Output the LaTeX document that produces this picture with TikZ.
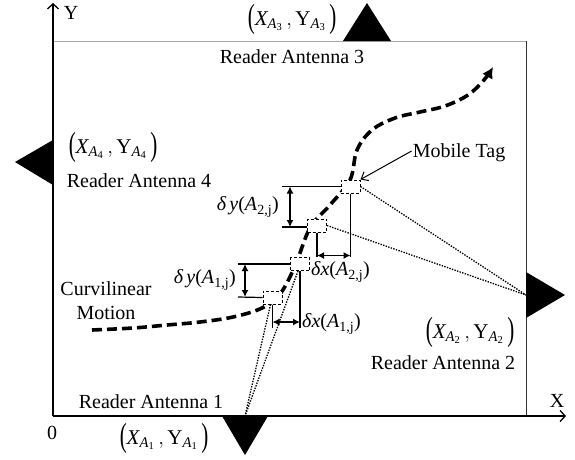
\documentclass[tikz,border=0pt]{standalone}
\usepackage{amsmath}
\usepackage{graphicx}
\usepackage{fontspec}
\setmainfont{Liberation Serif}
\usetikzlibrary{arrows.meta}
\newcommand{\bpar}[1]{\raisebox{-0.08em}{\scalebox{1}[1.6]{#1}}}
\newcommand{\antco}[1]{\bpar{(}$\textit{X}_{\textit{A}_{\text{#1}}}\,,\textrm{Y}_{\textit{A}_{\text{#1}}}$\,\bpar{)}}
\newcommand{\dyl}[1]{\textit{δ\,y}(\textit{A}\textsubscript{#1})}
\newcommand{\dxl}[1]{\textit{δx}(\textit{A}\textsubscript{#1})}
\begin{document}
\begin{tikzpicture}[x=1pt,y=-1pt,
  lbl/.style={font=\fontsize{20}{24}\selectfont, inner sep=0pt},
  colbl/.style={font=\fontsize{21}{25}\selectfont, inner sep=0pt},
  tagbox/.style={draw, dash pattern=on 3pt off 2pt, fill=white, line width=1pt, minimum width=19pt, minimum height=13pt, inner sep=0pt},
  axisline/.style={line width=1.6pt, -{Straight Barb[length=5pt,width=11pt,line width=1.3pt]}},
  dimline/.style={line width=1.2pt},
  dimarrow/.style={line width=1.3pt, {Latex[length=7pt,width=7pt]}-{Latex[length=7pt,width=7pt]}},
  ray/.style={line width=1.3pt, dash pattern=on 1.4pt off 1.3pt},
  motion/.style={line width=3.6pt, dash pattern=on 10pt off 5pt, -{Latex[length=11pt,width=12pt]}},
  antenna/.style={fill=black}
]
\useasboundingbox (0,0) rectangle (575,459);
% frame
\draw[gray!70, line width=1pt] (53,41) -- (526,41);
\draw[black!80, line width=1pt] (526,41) -- (526,416);
% axes
\coordinate (o) at (53,416);
\coordinate (ytip) at (53,3);
\coordinate (xtip) at (566,416);
\draw[axisline] (o) -- (ytip);
\draw[axisline] (o) -- (xtip);
\node[lbl] (ylab) at (71,13) {Y};
\node[lbl] (xlab) at (557,401) {X};
\node[lbl] (zero) at (52,433) {0};
% antennas
\fill[antenna] (343,41) -- (391,41) -- (367,3) -- cycle;
\fill[antenna] (53,140) -- (53,185) -- (15,162) -- cycle;
\fill[antenna] (526,272) -- (526,318) -- (565,295) -- cycle;
\fill[antenna] (222,416) -- (268,416) -- (245,455) -- cycle;
\coordinate (a1) at (245,416);
\coordinate (a2) at (526,295);
% labels
\node[colbl] (c3) at (292,19) {\antco{3}};
\node[lbl] (r3) at (292,57) {Reader Antenna 3};
\node[colbl] (c4) at (113,147) {\antco{4}};
\node[lbl] (r4) at (139,181) {Reader Antenna 4};
\node[lbl] (cm1) at (106,289) {Curvilinear};
\node[lbl] (cm2) at (106,313) {Motion};
\node[lbl] (r1) at (151,402) {Reader Antenna 1};
\node[colbl] (c1) at (164,438) {\antco{1}};
\node[colbl] (c2) at (470,332) {\antco{2}};
\node[lbl] (r2) at (443,363) {Reader Antenna 2};
\node[lbl] (mt) at (459,153) {Mobile Tag};
% motion curve
\draw[motion] plot[smooth, tension=0.6] coordinates {(92,330) (133,328) (167,325) (200,322) (233,317) (262,308) (280,294) (295,266) (310,228) (330,205) (350,180) (357,150) (372,130) (395,118) (420,112) (445,106) (468,95) (484,80) (493,67)};
% rays
\node[tagbox] (tag1) at (272.5,297.5) {};
\node[tagbox] (tag2) at (300,264) {};
\node[tagbox] (tag3) at (317,225.5) {};
\node[tagbox] (tag4) at (350.5,186.5) {};
\draw[ray] ([xshift=-2pt]tag1.south) -- (a1);
\draw[ray] ([xshift=-2pt]tag2.south) -- (a1);
\draw[ray] (tag3.east) -- (a2);
\draw[ray] (tag4.east) -- (a2);
\node[tagbox] at (tag1) {};
\node[tagbox] at (tag2) {};
\node[tagbox] at (tag3) {};
\node[tagbox] at (tag4) {};
% mobile tag arrow
\draw[line width=1pt, -{Straight Barb[length=6pt,width=10pt]}] (mt.west) ++(-1,-2) coordinate (mtf) (mtf) -- (tag4.north east);
% delta y (A2,j)
\coordinate (dy2a) at (282,186.5);
\coordinate (dy2b) at (282,227);
\draw[dimline] (tag4.west) -- (dy2a);
\draw[dimline] (tag3.west |- dy2b) -- (dy2b);
\draw[dimarrow] ([xshift=8pt]dy2a) -- ([xshift=8pt]dy2b);
\node[lbl, anchor=east] (ly2) at (279,207) {\dyl{2,j}};
% delta x (A2,j)
\coordinate (dx2a) at (317,257);
\coordinate (dx2b) at (350.5,257);
\draw[dimline] (tag3.south) -- (dx2a);
\draw[dimline] (tag4.south) -- (dx2b);
\draw[dimarrow] ([yshift=1.5pt]dx2a) -- ([yshift=1.5pt]dx2b);
\node[lbl, anchor=west] (lx2) at (311,272) {\dxl{2,j}};
% delta y (A1,j)
\coordinate (dy1a) at (238,264);
\coordinate (dy1b) at (238,297);
\draw[dimline] (tag2.west) -- (dy1a);
\draw[dimline] (tag1.west) -- (dy1b);
\draw[dimarrow] ([xshift=7pt]dy1a) -- ([xshift=7pt]dy1b);
\node[lbl, anchor=east] (ly1) at (236,280) {\dyl{1,j}};
% delta x (A1,j)
\coordinate (dx1a) at (272.5,328);
\coordinate (dx1b) at (300,328);
\draw[dimline] (tag1.south) -- (dx1a);
\draw[dimline] (tag2.south) -- (dx1b);
\draw[dimarrow] ([yshift=6pt]dx1a) -- ([yshift=6pt]dx1b);
\node[lbl, anchor=west] (lx1) at (302,324) {\dxl{1,j}};
\end{tikzpicture}
\end{document}
